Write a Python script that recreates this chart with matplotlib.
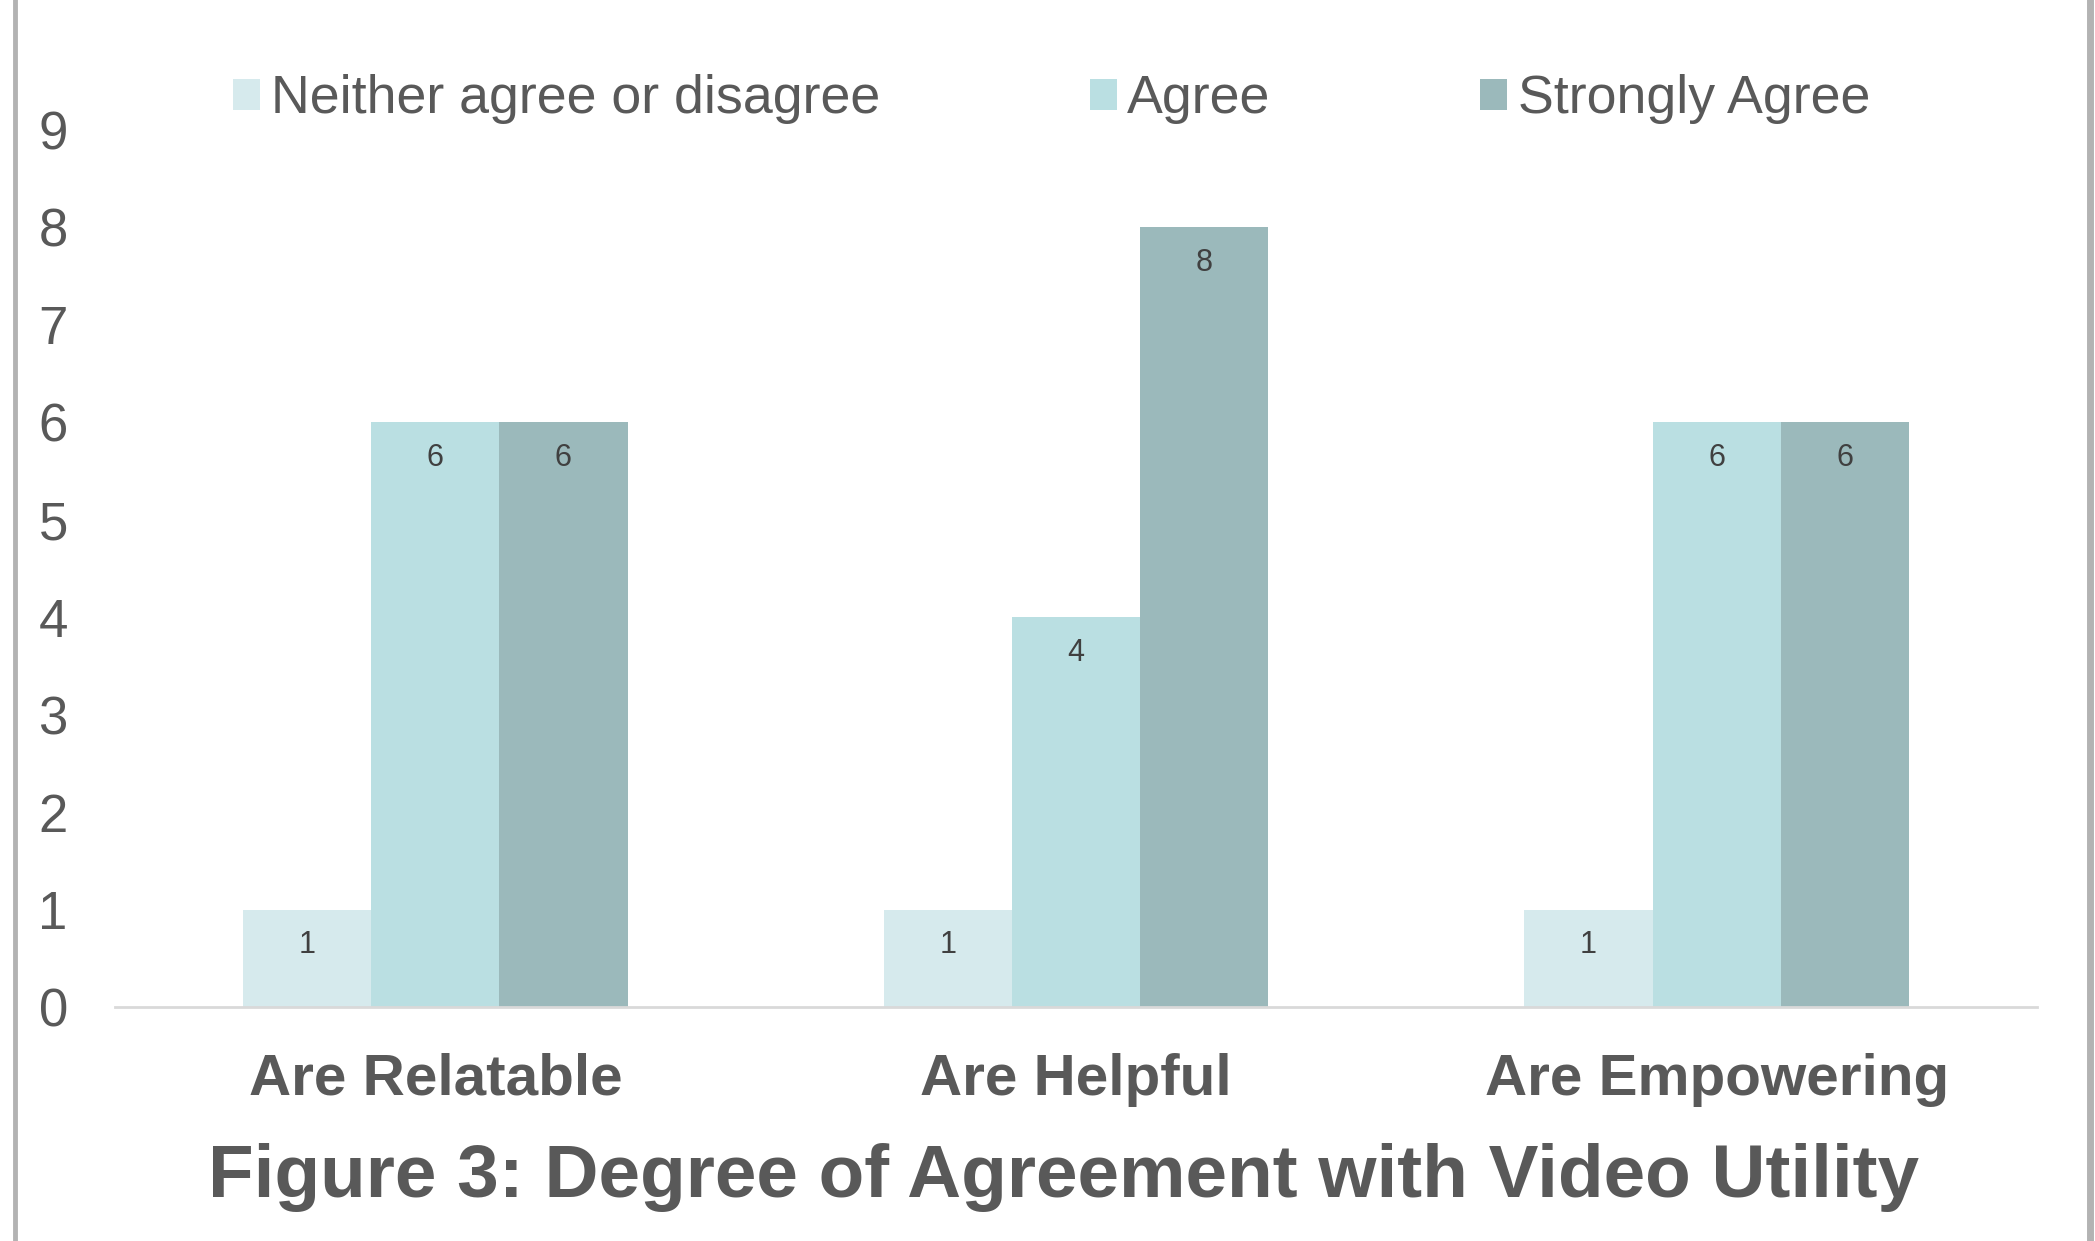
import matplotlib.pyplot as plt
from matplotlib.lines import Line2D
import numpy as np

plt.rcParams['font.family'] = ['Liberation Sans', 'DejaVu Sans']

# Data
categories = ['Are Relatable', 'Are Helpful', 'Are Empowering']
series_names = ['Neither agree or disagree', 'Agree', 'Strongly Agree']
neither = [1, 1, 1]
agree = [6, 4, 6]
strongly = [6, 8, 6]
colors = ['#d6eaed', '#badfe2', '#9bb9bb']

text_color = '#595959'

fig = plt.figure(figsize=(20.95, 12.41), dpi=100)
ax = fig.add_axes([0.0549, 0.1886, 0.9174, 0.7066])

x = np.arange(len(categories))
width = 0.2
for i, (vals, name) in enumerate(zip([neither, agree, strongly], series_names)):
    bars = ax.bar(x + (i - 1) * width, vals, width, color=colors[i], label=name)
    for b, v in zip(bars, vals):
        ax.annotate(str(v), (b.get_x() + b.get_width() / 2, v),
                    xytext=(0, -25.5), textcoords='offset points',
                    ha='center', va='center', fontsize=22, color='#404040')

ax.set_xlim(-0.5, 2.5)
ax.set_ylim(0, 9)
ax.set_yticks(range(0, 10))
ax.tick_params(axis='y', length=0, pad=34, labelsize=38, labelcolor=text_color)
ax.set_xticks(x)
ax.set_xticklabels(categories, fontsize=42, fontweight='bold', color=text_color)
ax.tick_params(axis='x', length=0, pad=33)

for s in ['top', 'right', 'left']:
    ax.spines[s].set_visible(False)
ax.spines['bottom'].set_color('#d9d9d9')
ax.spines['bottom'].set_linewidth(2)

leg = fig.legend(loc='center', bbox_to_anchor=(0.502, 0.92), ncol=3,
                 frameon=False, fontsize=38.7, handlelength=0.5,
                 handleheight=0.5, handletextpad=0.2, columnspacing=3.9)
for t in leg.get_texts():
    t.set_color(text_color)

fig.text(0.5075, 0.0515, 'Figure 3: Degree of Agreement with Video Utility',
         ha='center', va='center', fontsize=53.8, fontweight='bold', color=text_color)

# gray side borders
fig.add_artist(Line2D([0.0072, 0.0072], [0, 1], color='#b3b3b3', lw=3.5,
                      transform=fig.transFigure))
fig.add_artist(Line2D([0.9976, 0.9976], [0, 1], color='#b3b3b3', lw=5,
                      transform=fig.transFigure))

fig.savefig('out.png', dpi=100)
